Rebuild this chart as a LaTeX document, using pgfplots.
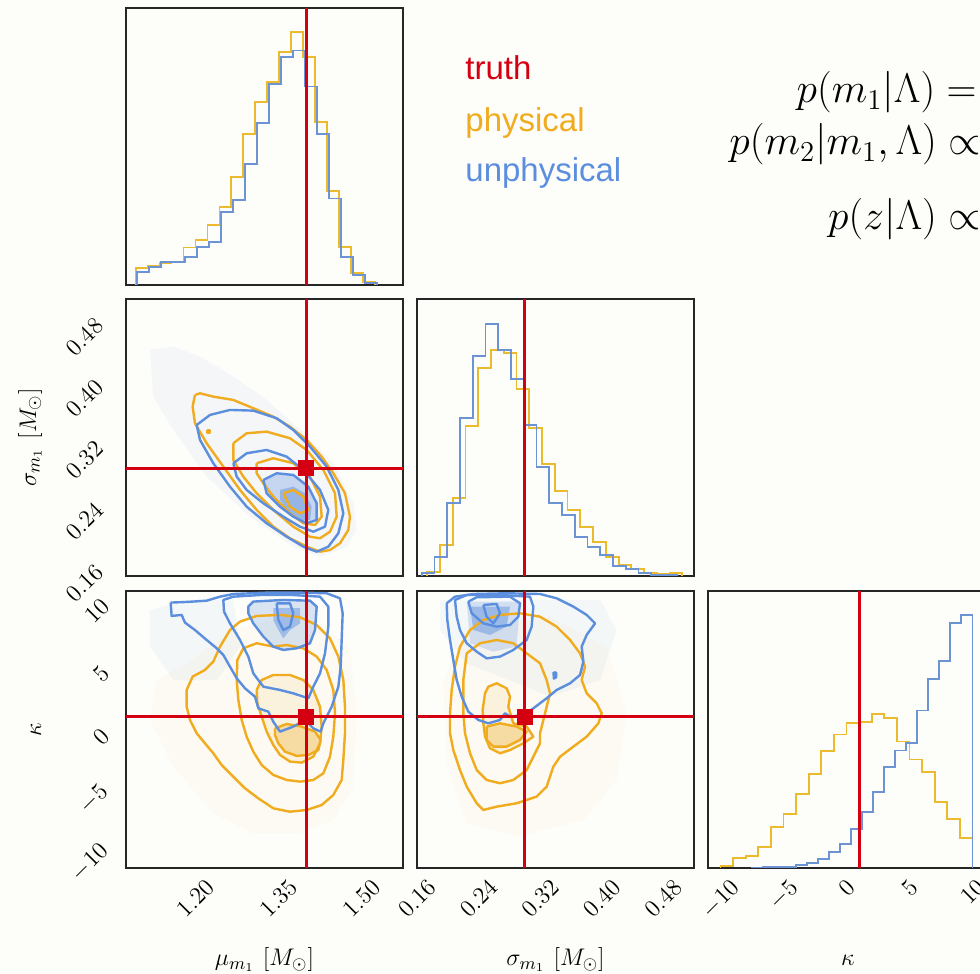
\documentclass[border=0pt]{standalone}
\usepackage{pgfplots}
\pgfplotsset{compat=1.18}
\usepackage{graphicx}
\usepackage{fontspec}
\newfontfamily\legendfont{Liberation Sans}
\definecolor{phys}{RGB}{240,172,30}
\definecolor{unph}{RGB}{92,142,222}
\definecolor{histphys}{RGB}{236,186,45}
\definecolor{histunph}{RGB}{108,148,212}
\definecolor{truth}{RGB}{212,0,18}
\definecolor{bg}{RGB}{253,253,250}
\definecolor{haze}{RGB}{225,232,244}

\pgfplotsset{
  corner/.style={scale only axis, width=138.5pt, height=138.5pt, anchor=south west,
    axis line style={line width=0.75pt, draw=black!85}, tick style={draw=none},
    major tick length=0pt, scaled ticks=false, clip=true},
  xlab/.style={xticklabel={\rotatebox{45}{$\pgfmathprintnumber{\tick}$}},
    xticklabel style={anchor=north, inner sep=0pt, yshift=-5pt, font=\fontsize{11.5}{13}\selectfont}},
  ylab/.style={yticklabel={\rotatebox{45}{$\pgfmathprintnumber{\tick}$}},
    yticklabel style={anchor=east, inner sep=0pt, xshift=#1, yshift=-3.5pt, font=\fontsize{11.5}{13}\selectfont}},
  xtwo/.style={xticklabel style={/pgf/number format/fixed, /pgf/number format/fixed zerofill, /pgf/number format/precision=2}},
  ytwo/.style={yticklabel style={/pgf/number format/fixed, /pgf/number format/fixed zerofill, /pgf/number format/precision=2}},
  hp/.style={histphys, line width=0.9pt, const plot mark left, mark=none},
  hu/.style={histunph, line width=0.9pt, const plot mark left, mark=none},
  cp/.style={phys, line width=1.2pt, mark=none, line join=round},
  cu/.style={unph, line width=1.2pt, mark=none, line join=round},
  tl/.style={truth, line width=1.5pt, mark=none},
  tm/.style={truth, only marks, mark=square*, mark size=3.75pt},
}

\begin{document}
\begin{tikzpicture}
\useasboundingbox (0,0) rectangle (490pt,487pt);
\fill[bg] (0,0) rectangle (490pt,487pt);

% ---------- (1,1) mu histogram ----------
\begin{axis}[corner, at={(63pt,344.5pt)}, xmin=1.075, xmax=1.575, ymin=0, ymax=833, xtick=\empty, ytick=\empty]
\addplot[hp] coordinates {(1.0924,0) (1.0924,50) (1.1140,58) (1.1356,65) (1.1572,70) (1.1788,113) (1.2004,135) (1.2220,180) (1.2436,235) (1.2652,325) (1.2868,455) (1.3084,550) (1.3300,610) (1.3516,700) (1.3732,760) (1.3948,685) (1.4164,490) (1.4380,283) (1.4596,115) (1.4812,35) (1.5028,10) (1.5244,0)};
\addplot[hu] coordinates {(1.0954,0) (1.0954,40) (1.1170,55) (1.1386,68) (1.1602,70) (1.1818,85) (1.2034,115) (1.2250,130) (1.2466,220) (1.2682,255) (1.2898,365) (1.3114,488) (1.3330,605) (1.3546,685) (1.3762,705) (1.3978,597) (1.4194,455) (1.4410,260) (1.4626,85) (1.4842,30) (1.5058,7) (1.5274,0)};
\addplot[tl] coordinates {(1.40,0) (1.40,833)};
\end{axis}

% ---------- (2,1) mu vs sigma ----------
\begin{axis}[corner, at={(63pt,199pt)}, xmin=1.075, xmax=1.575, ymin=0.16, ymax=0.52, xtick=\empty,
  ytick={0.16,0.24,0.32,0.40,0.48}, ylab=-10.5pt, ytwo]
\addplot[fill=haze, draw=none, fill opacity=0.3] coordinates {(1.1183,0.4538) (1.1604,0.4581) (1.2086,0.4451) (1.2687,0.4191) (1.3289,0.3888) (1.3891,0.3498) (1.4492,0.3065) (1.4854,0.2545) (1.4914,0.2198) (1.4733,0.1981) (1.4252,0.1851) (1.3770,0.1981) (1.2988,0.2371) (1.2206,0.2891) (1.1604,0.3498) (1.1243,0.3931) (1.1183,0.4538)};
\addplot[fill=unph, draw=none, fill opacity=0.3] coordinates {(1.3229,0.2848) (1.3470,0.2935) (1.3770,0.2913) (1.4041,0.2761) (1.4192,0.2545) (1.4192,0.2328) (1.4011,0.2285) (1.3770,0.2371) (1.3530,0.2501) (1.3289,0.2675) (1.3229,0.2848)};
\addplot[fill=unph, draw=none, fill opacity=0.45] coordinates {(1.3530,0.2718) (1.3770,0.2761) (1.3981,0.2675) (1.4101,0.2501) (1.4071,0.2328) (1.3891,0.2328) (1.3650,0.2458) (1.3530,0.2588) (1.3530,0.2718)};
\addplot[cp] coordinates {(1.1995,0.3953) (1.2086,0.3974) (1.2326,0.3931) (1.2687,0.3888) (1.3048,0.3780) (1.3409,0.3671) (1.3710,0.3541) (1.4011,0.3368) (1.4282,0.3151) (1.4492,0.2935) (1.4703,0.2675) (1.4793,0.2371) (1.4763,0.2198) (1.4613,0.2025) (1.4432,0.1938) (1.4252,0.1916) (1.4011,0.1981) (1.3710,0.2090) (1.3409,0.2241) (1.3109,0.2458) (1.2808,0.2718) (1.2507,0.3021) (1.2206,0.3325) (1.1995,0.3585) (1.1953,0.3801) (1.1995,0.3953)};
\addplot[cp] coordinates {(1.2687,0.3325) (1.2928,0.3455) (1.3289,0.3476) (1.3710,0.3390) (1.4011,0.3238) (1.4312,0.2978) (1.4523,0.2675) (1.4553,0.2371) (1.4432,0.2176) (1.4252,0.2090) (1.4071,0.2111) (1.3770,0.2241) (1.3409,0.2458) (1.3109,0.2675) (1.2868,0.2891) (1.2687,0.3108) (1.2687,0.3325)};
\addplot[cp] coordinates {(1.3109,0.3065) (1.3409,0.3130) (1.3770,0.3065) (1.4071,0.2891) (1.4252,0.2631) (1.4282,0.2371) (1.4162,0.2263) (1.3951,0.2285) (1.3710,0.2415) (1.3409,0.2631) (1.3229,0.2805) (1.3109,0.2935) (1.3109,0.3065)};
\addplot[cp] coordinates {(1.3590,0.2675) (1.3770,0.2718) (1.3951,0.2631) (1.4041,0.2458) (1.3891,0.2415) (1.3710,0.2501) (1.3590,0.2675)};
\addplot[cp, fill=phys] coordinates {(1.2216,0.3500) (1.2256,0.3500) (1.2256,0.3455) (1.2216,0.3455) (1.2216,0.3500)};
\addplot[cu] coordinates {(1.2026,0.3563) (1.2266,0.3693) (1.2627,0.3758) (1.3048,0.3749) (1.3470,0.3650) (1.3770,0.3498) (1.4071,0.3281) (1.4372,0.3021) (1.4583,0.2718) (1.4673,0.2415) (1.4583,0.2155) (1.4402,0.1981) (1.4192,0.1916) (1.3951,0.1981) (1.3650,0.2111) (1.3289,0.2285) (1.2928,0.2501) (1.2627,0.2761) (1.2326,0.3065) (1.2086,0.3368) (1.2026,0.3563)};
\addplot[cu] coordinates {(1.2687,0.3065) (1.2928,0.3195) (1.3289,0.3238) (1.3650,0.3151) (1.3951,0.2978) (1.4252,0.2718) (1.4402,0.2458) (1.4342,0.2241) (1.4131,0.2176) (1.3891,0.2241) (1.3590,0.2371) (1.3229,0.2545) (1.2928,0.2718) (1.2748,0.2891) (1.2687,0.3065)};
\addplot[cu] coordinates {(1.3229,0.2848) (1.3470,0.2935) (1.3770,0.2913) (1.4041,0.2761) (1.4192,0.2545) (1.4192,0.2328) (1.4011,0.2285) (1.3770,0.2371) (1.3530,0.2501) (1.3289,0.2675) (1.3229,0.2848)};
\addplot[tl] coordinates {(1.40,0.16) (1.40,0.52)};
\addplot[tl] coordinates {(1.075,0.30) (1.575,0.30)};
\addplot[tm] coordinates {(1.40,0.30)};
\end{axis}

% ---------- (2,2) sigma histogram ----------
\begin{axis}[corner, at={(208.5pt,199pt)}, xmin=0.16, xmax=0.52, ymin=0, ymax=831, xtick=\empty, ytick=\empty]
\addplot[hp] coordinates {(0.1734,0) (0.1734,13) (0.1900,93) (0.2065,233) (0.2231,450) (0.2397,623) (0.2563,678) (0.2728,668) (0.2894,560) (0.3060,443) (0.3225,336) (0.3391,255) (0.3557,198) (0.3722,148) (0.3888,103) (0.4054,58) (0.4220,33) (0.4385,20) (0.4551,10) (0.4717,6) (0.4882,8) (0.5048,0)};
\addplot[hu] coordinates {(0.1661,0) (0.1661,10) (0.1827,58) (0.1992,218) (0.2158,473) (0.2324,661) (0.2490,756) (0.2655,678) (0.2821,590) (0.2987,453) (0.3152,326) (0.3318,218) (0.3484,183) (0.3649,118) (0.3815,88) (0.3981,63) (0.4147,30) (0.4312,20) (0.4478,8) (0.4644,3) (0.4809,3) (0.4975,0)};
\addplot[tl] coordinates {(0.30,0) (0.30,831)};
\end{axis}

% ---------- (3,1) mu vs kappa ----------
\begin{axis}[corner, at={(63pt,53pt)}, xmin=1.075, xmax=1.575, ymin=-11, ymax=11,
  xtick={1.20,1.35,1.50}, xlab, xtwo, ytick={-10,-5,0,5,10}, ylab=-7.5pt]
\addplot[fill=phys, draw=none, fill opacity=0.035] coordinates {(1.1304,3.93) (1.1845,5.26) (1.2687,7.90) (1.3891,9.23) (1.4793,6.58) (1.4914,1.29) (1.4854,-4.54) (1.4492,-7.19) (1.3891,-8.25) (1.3048,-8.25) (1.2326,-6.66) (1.1604,-2.95) (1.1183,0.76) (1.1304,3.93)};
\addplot[fill=unph, draw=none, fill opacity=0.05] coordinates {(1.1183,9.49) (1.1845,10.29) (1.2687,10.29) (1.2808,6.58) (1.2387,3.93) (1.1604,3.93) (1.1183,6.58) (1.1183,9.49)};
\addplot[fill=phys, draw=none, fill opacity=0.1] coordinates {(1.3109,3.14) (1.3199,3.93) (1.3409,4.33) (1.3710,4.33) (1.3951,3.93) (1.4131,3.14) (1.4252,1.81) (1.4282,0.23) (1.4252,-1.10) (1.4131,-2.16) (1.3921,-2.63) (1.3710,-2.55) (1.3530,-2.02) (1.3409,-1.23) (1.3289,-0.17) (1.3199,1.02) (1.3121,2.08) (1.3109,3.14)};
\addplot[fill=phys, draw=none, fill opacity=0.3] coordinates {(1.3440,0.09) (1.3650,0.44) (1.3921,0.23) (1.4162,-0.17) (1.4264,-0.83) (1.4222,-1.63) (1.4041,-2.02) (1.3831,-2.10) (1.3620,-1.76) (1.3500,-1.10) (1.3440,-0.44) (1.3440,0.09)};
\addplot[fill=unph, draw=none, fill opacity=0.22] coordinates {(1.2958,9.23) (1.2958,9.76) (1.3048,10.16) (1.3590,10.29) (1.4071,10.23) (1.4192,9.76) (1.4162,7.90) (1.4071,6.85) (1.3831,6.45) (1.3590,6.32) (1.3409,6.58) (1.3229,7.38) (1.3048,8.43) (1.2958,9.23)};
\addplot[fill=unph, draw=none, fill opacity=0.45] coordinates {(1.3409,9.63) (1.3891,9.63) (1.3891,8.43) (1.3710,7.90) (1.3590,7.24) (1.3500,7.90) (1.3409,8.70) (1.3409,9.63)};
\addplot[cp] coordinates {(1.1845,3.14) (1.1953,4.20) (1.2176,4.73) (1.2326,5.39) (1.2447,6.58) (1.2627,7.90) (1.2808,8.57) (1.3109,9.02) (1.3530,9.10) (1.3891,8.91) (1.4192,8.30) (1.4432,7.24) (1.4583,5.79) (1.4673,3.93) (1.4703,1.81) (1.4703,-0.30) (1.4673,-2.42) (1.4643,-4.01) (1.4492,-5.20) (1.4282,-6.00) (1.4011,-6.39) (1.3710,-6.53) (1.3409,-6.26) (1.3139,-5.47) (1.2898,-4.67) (1.2687,-3.75) (1.2477,-2.82) (1.2326,-1.89) (1.2176,-1.10) (1.2026,-0.30) (1.1905,0.76) (1.1845,1.81) (1.1845,3.14)};
\addplot[cp] coordinates {(1.2748,3.93) (1.2760,5.52) (1.2868,6.45) (1.3109,6.85) (1.3409,6.58) (1.3650,6.71) (1.3951,6.45) (1.4192,5.79) (1.4372,4.73) (1.4492,3.14) (1.4523,1.29) (1.4492,-0.57) (1.4432,-2.16) (1.4312,-3.48) (1.4131,-4.01) (1.3891,-4.14) (1.3650,-4.01) (1.3409,-3.61) (1.3199,-2.82) (1.3048,-1.76) (1.2928,-0.57) (1.2838,0.76) (1.2778,2.34) (1.2748,3.93)};
\addplot[cp] coordinates {(1.3109,3.14) (1.3199,3.93) (1.3409,4.33) (1.3710,4.33) (1.3951,3.93) (1.4131,3.14) (1.4252,1.81) (1.4282,0.23) (1.4252,-1.10) (1.4131,-2.16) (1.3921,-2.63) (1.3710,-2.55) (1.3530,-2.02) (1.3409,-1.23) (1.3289,-0.17) (1.3199,1.02) (1.3121,2.08) (1.3109,3.14)};
\addplot[cp] coordinates {(1.3440,0.09) (1.3650,0.44) (1.3921,0.23) (1.4162,-0.17) (1.4264,-0.83) (1.4222,-1.63) (1.4041,-2.02) (1.3831,-2.10) (1.3620,-1.76) (1.3500,-1.10) (1.3440,-0.44) (1.3440,0.09)};
\addplot[cu] coordinates {(1.1556,10.08) (1.1845,10.13) (1.2206,10.23) (1.2447,10.55) (1.2687,10.76) (1.3289,10.87) (1.3891,10.87) (1.4372,10.82) (1.4613,10.42) (1.4661,9.23) (1.4643,7.11) (1.4625,4.99) (1.4583,3.40) (1.4462,1.81) (1.4312,0.49) (1.4264,-0.17) (1.4131,0.09) (1.3981,0.76) (1.3770,0.23) (1.3530,-0.17) (1.3409,0.62) (1.3319,1.42) (1.3139,1.68) (1.3078,2.61) (1.2898,3.27) (1.2748,4.07) (1.2627,4.99) (1.2507,5.92) (1.2387,6.45) (1.2206,7.11) (1.1995,7.90) (1.1815,8.49) (1.1755,9.10) (1.1574,9.02) (1.1556,10.08)};
\addplot[cu] coordinates {(1.2519,9.36) (1.2507,10.29) (1.2687,10.55) (1.3169,10.68) (1.3770,10.68) (1.4252,10.55) (1.4402,9.76) (1.4402,8.17) (1.4342,6.05) (1.4252,4.46) (1.4131,3.40) (1.4041,2.48) (1.3770,2.87) (1.3530,3.14) (1.3229,3.40) (1.3048,4.46) (1.2958,5.79) (1.2808,7.11) (1.2627,8.43) (1.2519,9.36)};
\addplot[cu] coordinates {(1.2958,9.23) (1.2958,9.76) (1.3048,10.16) (1.3590,10.29) (1.4071,10.23) (1.4192,9.76) (1.4162,7.90) (1.4071,6.85) (1.3831,6.45) (1.3590,6.32) (1.3409,6.58) (1.3229,7.38) (1.3048,8.43) (1.2958,9.23)};
\addplot[cu] coordinates {(1.3470,10.02) (1.3710,10.02) (1.3770,9.23) (1.3710,8.17) (1.3590,7.90) (1.3500,8.70) (1.3470,10.02)};
\addplot[tl] coordinates {(1.40,-11) (1.40,11)};
\addplot[tl] coordinates {(1.075,1) (1.575,1)};
\addplot[tm] coordinates {(1.40,1)};
\end{axis}

% ---------- (3,2) sigma vs kappa ----------
\begin{axis}[corner, at={(208.5pt,53pt)}, xmin=0.16, xmax=0.52, ymin=-11, ymax=11,
  xtick={0.16,0.24,0.32,0.40,0.48}, xlab, xtwo, ytick=\empty]
\addplot[fill=phys, draw=none, fill opacity=0.035] coordinates {(0.1942,3.93) (0.2246,7.90) (0.3329,8.96) (0.4065,6.58) (0.4325,1.29) (0.4195,-4.01) (0.3762,-7.19) (0.2895,-8.51) (0.2246,-7.45) (0.1986,-2.69) (0.1942,3.93)};
\addplot[fill=unph, draw=none, fill opacity=0.05] coordinates {(0.1899,10.29) (0.3979,10.29) (0.4195,7.90) (0.3979,3.93) (0.3329,2.61) (0.2246,5.26) (0.1899,7.90) (0.1899,10.29)};
\addplot[fill=phys, draw=none, fill opacity=0.1] coordinates {(0.2453,1.55) (0.2484,2.87) (0.2527,3.40) (0.2635,3.67) (0.2765,3.27) (0.2809,2.61) (0.2787,1.81) (0.2852,0.49) (0.3025,0.23) (0.3112,-0.57) (0.2982,-1.10) (0.2809,-1.63) (0.2679,-1.89) (0.2549,-1.49) (0.2484,-0.57) (0.2462,0.49) (0.2453,1.55)};
\addplot[fill=phys, draw=none, fill opacity=0.3] coordinates {(0.2505,0.23) (0.2679,0.49) (0.2895,0.23) (0.3025,-0.17) (0.2939,-0.83) (0.2765,-1.36) (0.2592,-1.36) (0.2505,-0.83) (0.2505,0.23)};
\addplot[fill=unph, draw=none, fill opacity=0.22] coordinates {(0.2246,10.16) (0.2939,10.16) (0.2895,6.58) (0.2592,6.18) (0.2289,6.85) (0.2246,10.16)};
\addplot[fill=unph, draw=none, fill opacity=0.45] coordinates {(0.2289,9.76) (0.2809,9.76) (0.2765,8.17) (0.2549,7.51) (0.2332,7.90) (0.2289,9.76)};
\addplot[cp] coordinates {(0.2029,1.29) (0.2051,3.14) (0.2094,4.99) (0.2159,6.58) (0.2289,7.90) (0.2462,8.70) (0.2679,9.10) (0.2939,9.23) (0.3199,8.96) (0.3415,8.17) (0.3589,7.11) (0.3719,6.05) (0.3784,4.99) (0.3740,3.93) (0.3805,2.87) (0.3935,2.08) (0.4000,1.29) (0.3957,0.49) (0.3805,-0.57) (0.3632,-1.36) (0.3459,-2.16) (0.3372,-2.95) (0.3285,-4.54) (0.3155,-5.33) (0.2895,-5.86) (0.2635,-6.13) (0.2462,-6.39) (0.2376,-5.86) (0.2246,-4.54) (0.2159,-3.22) (0.2072,-1.63) (0.2029,-0.30) (0.2029,1.29)};
\addplot[cp] coordinates {(0.2202,3.93) (0.2246,6.05) (0.2419,6.85) (0.2635,7.11) (0.2852,6.85) (0.3025,6.05) (0.3199,5.26) (0.3285,3.93) (0.3329,2.87) (0.3285,1.81) (0.3242,0.76) (0.3199,-0.30) (0.3199,-1.10) (0.3112,-2.16) (0.3025,-3.22) (0.2852,-4.01) (0.2679,-4.27) (0.2505,-4.01) (0.2376,-3.22) (0.2289,-1.89) (0.2224,-0.30) (0.2202,1.29) (0.2202,3.93)};
\addplot[cp] coordinates {(0.2453,1.55) (0.2484,2.87) (0.2527,3.40) (0.2635,3.67) (0.2765,3.27) (0.2809,2.61) (0.2787,1.81) (0.2852,0.49) (0.3025,0.23) (0.3112,-0.57) (0.2982,-1.10) (0.2809,-1.63) (0.2679,-1.89) (0.2549,-1.49) (0.2484,-0.57) (0.2462,0.49) (0.2453,1.55)};
\addplot[cp] coordinates {(0.2505,0.23) (0.2679,0.49) (0.2895,0.23) (0.3025,-0.17) (0.2939,-0.83) (0.2765,-1.36) (0.2592,-1.36) (0.2505,-0.83) (0.2505,0.23)};
\addplot[cu] coordinates {(0.1986,10.02) (0.2094,10.55) (0.2332,10.76) (0.2765,10.82) (0.3199,10.76) (0.3415,10.42) (0.3632,9.76) (0.3805,9.10) (0.3914,8.43) (0.3805,7.51) (0.3740,6.58) (0.3762,5.39) (0.3719,4.33) (0.3589,3.67) (0.3415,3.14) (0.3285,2.48) (0.3112,1.68) (0.2982,1.15) (0.2809,1.02) (0.2744,1.29) (0.2679,0.76) (0.2527,0.49) (0.2397,0.76) (0.2267,1.42) (0.2181,2.61) (0.2116,3.93) (0.2072,5.52) (0.2029,7.11) (0.1994,8.70) (0.1986,10.02)};
\addplot[cu] coordinates {(0.2116,8.96) (0.2094,10.29) (0.2246,10.68) (0.2679,10.68) (0.3069,10.55) (0.3112,9.76) (0.3090,8.17) (0.3025,7.11) (0.2852,6.32) (0.2679,5.79) (0.2505,5.65) (0.2376,6.18) (0.2246,6.85) (0.2159,7.90) (0.2116,8.96)};
\addplot[cu] coordinates {(0.2267,10.16) (0.2376,10.50) (0.2809,10.55) (0.2939,10.02) (0.2917,8.96) (0.2809,8.30) (0.2635,8.17) (0.2462,8.43) (0.2311,9.23) (0.2267,10.16)};
\addplot[cu] coordinates {(0.2462,9.89) (0.2635,9.97) (0.2679,9.23) (0.2592,8.43) (0.2505,8.96) (0.2462,9.89)};
\addplot[cu, fill=unph] coordinates {(0.3375,4.55) (0.3410,4.50) (0.3410,4.15) (0.3378,4.05) (0.3375,4.55)};
\addplot[tl] coordinates {(0.30,-11) (0.30,11)};
\addplot[tl] coordinates {(0.16,1) (0.52,1)};
\addplot[tm] coordinates {(0.30,1)};
\end{axis}

% ---------- (3,3) kappa histogram ----------
\begin{axis}[corner, at={(354pt,53pt)}, xmin=-11, xmax=11, ymin=0, ymax=830,
  xtick={-10,-5,0,5,10}, xlab, ytick=\empty]
\addplot[hp] coordinates {(-10,0) (-10,5) (-9,29) (-8,37) (-7,64) (-6,124) (-5,162) (-4,222) (-3,282) (-2,350) (-1,400) (0,434) (1,437) (2,462) (3,449) (4,379) (5,325) (6,287) (7,197) (8,147) (9,90) (10,0)};
\addplot[hu] coordinates {(-7.5,0) (-7.5,1) (-6.625,2) (-5.75,3) (-4.875,4) (-4,10) (-3.125,15) (-2.25,27) (-1.375,47) (-0.5,72) (0.375,117) (1.25,167) (2.125,227) (3,302) (3.875,352) (4.75,375) (5.625,472) (6.5,567) (7.375,620) (8.25,735) (9.125,757) (10,0)};
\addplot[tl] coordinates {(1,0) (1,830)};
\end{axis}

% ---------- axis labels ----------
\node[anchor=base, inner sep=0pt, font=\fontsize{12.7}{15}\selectfont] at (132.25pt,4pt) {$\mu_{m_1}\ [M_\odot]$};
\node[anchor=base, inner sep=0pt, font=\fontsize{12.7}{15}\selectfont] at (277.75pt,4pt) {$\sigma_{m_1}\ [M_\odot]$};
\node[anchor=base, inner sep=0pt, font=\fontsize{12.7}{15}\selectfont] at (424pt,4pt) {$\kappa$};
\node[rotate=90, anchor=center, inner sep=0pt, font=\fontsize{12.7}{15}\selectfont] at (15pt,268.25pt) {$\sigma_{m_1}\ [M_\odot]$};
\node[rotate=90, anchor=center, inner sep=0pt, font=\fontsize{12.7}{15}\selectfont] at (18pt,122.25pt) {$\kappa$};

% ---------- legend text ----------
\node[anchor=base west, inner sep=0pt, text=truth, font=\legendfont\fontsize{16.5}{19}\selectfont] at (232.5pt,447pt) {truth};
\node[anchor=base west, inner sep=0pt, text=phys, font=\legendfont\fontsize{16.5}{19}\selectfont] at (232.5pt,421pt) {physical};
\node[anchor=base west, inner sep=0pt, text=unph, font=\legendfont\fontsize{16.5}{19}\selectfont] at (232.5pt,396pt) {unphysical};

% ---------- equations ----------
\node[anchor=base east, inner sep=0pt, font=\fontsize{19.5}{23}\selectfont] at (488.5pt,435.5pt) {$p(m_1|\Lambda) =$};
\node[anchor=base east, inner sep=0pt, font=\fontsize{19.5}{23}\selectfont] at (490.5pt,409.5pt) {$p(m_2|m_1,\Lambda) \propto$};
\node[anchor=base east, inner sep=0pt, font=\fontsize{19.5}{23}\selectfont] at (490.5pt,372pt) {$p(z|\Lambda) \propto$};
\end{tikzpicture}
\end{document}
